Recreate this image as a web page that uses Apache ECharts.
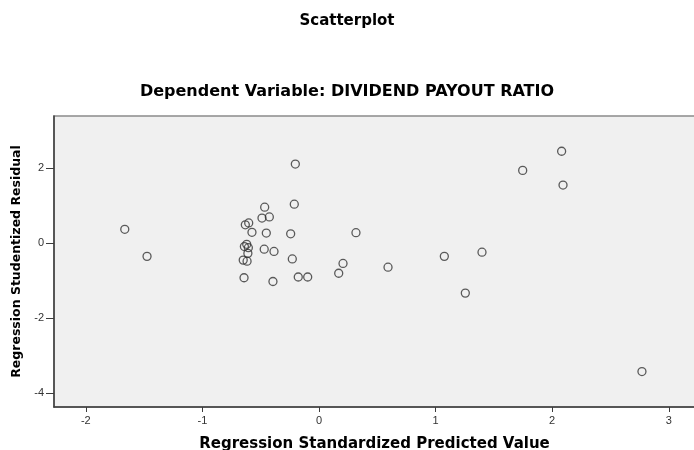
<!DOCTYPE html>
<html>
<head>
<meta charset="utf-8">
<script src="https://cdn.jsdelivr.net/npm/echarts@6/dist/echarts.min.js"></script>
<style>
  html, body { margin: 0; padding: 0; background: #fff; }
  #main { width: 694px; height: 450px; }
</style>
</head>
<body>
<div id="main"></div>
<script>
// predicted (x) and studentized residual (y)
var predicted = [
    -1.666, -1.475, -0.203, -0.212, -0.466, -0.489, -0.426, -0.632, -0.603,
    -0.575, -0.452, -0.243, 0.317, -0.640, -0.620, -0.606, -0.610, -0.470,
    -0.386, -0.650, -0.617, -0.229, 0.206, 0.169, -0.643, -0.395, -0.178,
    -0.097, 2.081, 1.747, 2.093, 0.592, 1.075, 1.398, 1.255, 2.770
];
var residual = [
    0.37, -0.35, 2.11, 1.04, 0.96, 0.67, 0.70, 0.49, 0.54,
    0.29, 0.27, 0.25, 0.28, -0.09, -0.03, -0.12, -0.27, -0.16,
    -0.22, -0.45, -0.48, -0.42, -0.54, -0.80, -0.92, -1.02, -0.90,
    -0.90, 2.45, 1.94, 1.55, -0.64, -0.35, -0.24, -1.33, -3.42
];
var xTicks = [-2, -1, 0, 1, 2, 3];
var yTicks = [-4, -2, 0, 2];

var points = [];
for (var i = 0; i < predicted.length; i++) {
    points.push([predicted[i], residual[i]]);
}

var myChart = echarts.init(document.getElementById('main'));
var font = 'DejaVu Sans';

var option = {
    backgroundColor: '#ffffff',
    animation: false,
    title: [
        {
            text: 'Scatterplot',
            left: 'center',
            top: 9,
            textStyle: { fontFamily: font, fontSize: 15, fontWeight: 'bold', color: '#000' }
        },
        {
            text: 'Dependent Variable: DIVIDEND PAYOUT RATIO',
            left: 'center',
            top: 79,
            textStyle: { fontFamily: font, fontSize: 16, fontWeight: 'bold', color: '#000' }
        }
    ],
    grid: {
        left: 54,
        right: -1,
        top: 116,
        bottom: 43,
        containLabel: false,
        outerBoundsMode: 'none',
        show: true,
        backgroundColor: '#f0f0f0',
        borderColor: '#8a8a8a',
        borderWidth: 1.5
    },
    xAxis: {
        type: 'value',
        min: -2.273,
        max: 3.225,
        name: 'Regression Standardized Predicted Value',
        nameLocation: 'middle',
        nameGap: 30,
        nameTextStyle: { fontFamily: font, fontSize: 15, fontWeight: 'bold', color: '#000' },
        axisLine: { show: true, onZero: false, lineStyle: { color: '#3c3c3c', width: 1.5 } },
        axisTick: { show: true, length: 5, customValues: xTicks, lineStyle: { color: '#3c3c3c' } },
        axisLabel: {
            customValues: xTicks,
            margin: 8,
            fontFamily: 'Liberation Sans',
            fontSize: 11,
            color: '#333'
        },
        splitLine: { show: false }
    },
    yAxis: {
        type: 'value',
        min: -4.365,
        max: 3.39,
        name: 'Regression Studentized Residual',
        nameLocation: 'middle',
        nameGap: 29,
        nameTextStyle: { fontFamily: font, fontSize: 12.5, fontWeight: 'bold', color: '#000' },
        axisLine: { show: true, onZero: false, lineStyle: { color: '#3c3c3c', width: 1.5 } },
        axisTick: { show: true, length: 8, customValues: yTicks, lineStyle: { color: '#3c3c3c' } },
        axisLabel: {
            customValues: yTicks,
            margin: 10,
            fontFamily: 'Liberation Sans',
            fontSize: 11,
            color: '#333'
        },
        splitLine: { show: false }
    },
    series: [{
        type: 'scatter',
        data: points,
        symbol: 'circle',
        symbolSize: 8,
        itemStyle: {
            color: 'rgba(0,0,0,0)',
            borderColor: '#333',
            borderWidth: 1.3
        }
    }]
};
myChart.setOption(option);
</script>
</body>
</html>
